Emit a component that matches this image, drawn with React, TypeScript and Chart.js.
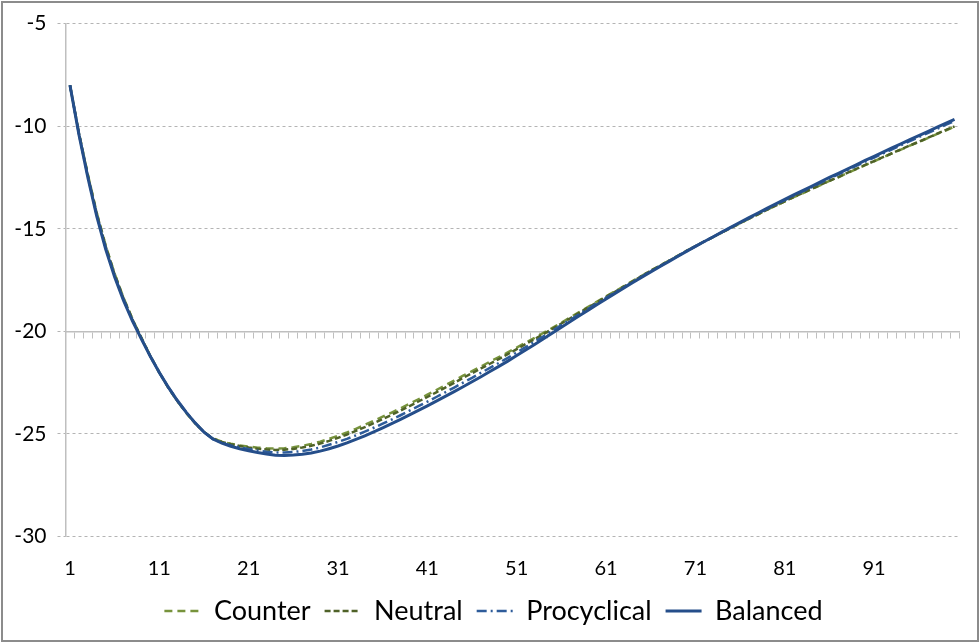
import { useEffect, useRef } from 'react'
import { Chart, registerables } from 'chart.js'

Chart.register(...registerables)

// periods 1..100
const PERIODS = Array.from({ length: 100 }, (_, i) => String(i + 1))
const SHOWN_TICKS = ['1', '11', '21', '31', '41', '51', '61', '71', '81', '91']

const COUNTER = [
  -8.00, -10.32, -12.35, -14.22, -15.82, -17.19, -18.37, -19.40, -20.32, -21.20,
  -22.01, -22.74, -23.39, -23.97, -24.48, -24.91, -25.22, -25.38, -25.48, -25.56,
  -25.62, -25.67, -25.70, -25.72, -25.70, -25.65, -25.58, -25.49, -25.38, -25.24,
  -25.09, -24.93, -24.75, -24.56, -24.36, -24.16, -23.96, -23.75, -23.53, -23.31,
  -23.09, -22.86, -22.63, -22.40, -22.16, -21.94, -21.71, -21.48, -21.26, -21.03,
  -20.79, -20.55, -20.32, -20.07, -19.83, -19.58, -19.32, -19.06, -18.81, -18.55,
  -18.30, -18.05, -17.80, -17.54, -17.29, -17.04, -16.80, -16.56, -16.32, -16.08,
  -15.85, -15.62, -15.40, -15.17, -14.95, -14.73, -14.51, -14.30, -14.08, -13.87,
  -13.67, -13.46, -13.27, -13.07, -12.87, -12.67, -12.49, -12.29, -12.09, -11.90,
  -11.71, -11.52, -11.33, -11.14, -10.95, -10.77, -10.58, -10.39, -10.21, -10.03,
]

const NEUTRAL = [
  -8.00, -10.34, -12.38, -14.26, -15.86, -17.22, -18.40, -19.42, -20.33, -21.21,
  -22.01, -22.74, -23.38, -23.96, -24.48, -24.91, -25.23, -25.39, -25.50, -25.59,
  -25.66, -25.72, -25.76, -25.78, -25.77, -25.73, -25.66, -25.58, -25.47, -25.34,
  -25.19, -25.03, -24.85, -24.67, -24.47, -24.27, -24.07, -23.86, -23.64, -23.42,
  -23.20, -22.97, -22.74, -22.51, -22.27, -22.04, -21.81, -21.58, -21.35, -21.11,
  -20.87, -20.62, -20.38, -20.13, -19.88, -19.62, -19.36, -19.10, -18.84, -18.58,
  -18.32, -18.07, -17.82, -17.56, -17.30, -17.05, -16.81, -16.57, -16.33, -16.08,
  -15.85, -15.62, -15.40, -15.17, -14.95, -14.73, -14.51, -14.30, -14.08, -13.87,
  -13.66, -13.45, -13.26, -13.06, -12.86, -12.66, -12.48, -12.28, -12.08, -11.89,
  -11.70, -11.51, -11.32, -11.13, -10.94, -10.76, -10.57, -10.38, -10.19, -10.01,
]

const PROCYCLICAL = [
  -8.00, -10.37, -12.44, -14.33, -15.93, -17.29, -18.45, -19.46, -20.36, -21.22,
  -22.01, -22.72, -23.36, -23.94, -24.46, -24.91, -25.25, -25.43, -25.56, -25.66,
  -25.74, -25.81, -25.87, -25.91, -25.91, -25.88, -25.83, -25.76, -25.66, -25.53,
  -25.39, -25.24, -25.07, -24.89, -24.70, -24.50, -24.30, -24.09, -23.87, -23.65,
  -23.43, -23.20, -22.97, -22.74, -22.50, -22.27, -22.02, -21.78, -21.54, -21.29,
  -21.03, -20.77, -20.51, -20.24, -19.97, -19.70, -19.43, -19.16, -18.90, -18.63,
  -18.37, -18.10, -17.85, -17.58, -17.33, -17.07, -16.83, -16.58, -16.34, -16.09,
  -15.86, -15.62, -15.40, -15.16, -14.93, -14.71, -14.48, -14.26, -14.04, -13.82,
  -13.60, -13.39, -13.18, -12.97, -12.76, -12.55, -12.35, -12.14, -11.94, -11.73,
  -11.53, -11.33, -11.13, -10.93, -10.73, -10.53, -10.34, -10.14, -9.94, -9.75,
]

const BALANCED = [
  -8.00, -10.40, -12.50, -14.40, -16.00, -17.35, -18.50, -19.50, -20.38, -21.23,
  -22.01, -22.72, -23.36, -23.94, -24.46, -24.91, -25.25, -25.45, -25.60, -25.72,
  -25.82, -25.91, -25.98, -26.04, -26.05, -26.03, -25.99, -25.93, -25.84, -25.72,
  -25.59, -25.44, -25.27, -25.09, -24.90, -24.70, -24.50, -24.29, -24.07, -23.85,
  -23.63, -23.40, -23.17, -22.94, -22.70, -22.46, -22.21, -21.96, -21.71, -21.45,
  -21.18, -20.91, -20.64, -20.36, -20.08, -19.80, -19.52, -19.24, -18.97, -18.69,
  -18.42, -18.15, -17.89, -17.62, -17.36, -17.10, -16.85, -16.60, -16.35, -16.10,
  -15.86, -15.62, -15.39, -15.15, -14.92, -14.69, -14.46, -14.24, -14.01, -13.79,
  -13.57, -13.35, -13.14, -12.93, -12.71, -12.50, -12.30, -12.09, -11.88, -11.67,
  -11.47, -11.27, -11.06, -10.86, -10.66, -10.46, -10.26, -10.06, -9.86, -9.67,
]

const FONT = 'Lato, "Noto Sans", sans-serif'
const AXIS_GREY = '#bfbfbf'

// the legend row sits a little right of the canvas centre in the original
const legendNudge = {
  id: 'legendNudge',
  afterLayout(c: any) {
    if (!c.legend) return
    c.legend.left += 14
    c.legend.right += 14
  },
}

export default function App() {
  const canvasRef = useRef<HTMLCanvasElement>(null)

  useEffect(() => {
    if (!canvasRef.current) return
    const chart = new Chart(canvasRef.current, {
      type: 'line',
      data: {
        labels: PERIODS,
        datasets: [
          { label: 'Counter', data: COUNTER, borderColor: '#77933C', borderWidth: 2.5, borderDash: [8, 5], order: 3 },
          { label: 'Neutral', data: NEUTRAL, borderColor: '#4F6228', borderWidth: 2.5, borderDash: [6, 3], order: 2 },
          { label: 'Procyclical', data: PROCYCLICAL, borderColor: '#2E5C9A', borderWidth: 2.5, borderDash: [10, 4, 2, 4], order: 1 },
          { label: 'Balanced', data: BALANCED, borderColor: '#254E8A', borderWidth: 3, order: 0 },
        ],
      },
      options: {
        animation: false,
        responsive: true,
        maintainAspectRatio: false,
        layout: { padding: { left: 0, right: 21, top: 20, bottom: 7.5 } },
        elements: { point: { radius: 0 }, line: { tension: 0, fill: false } },
        scales: {
          x: {
            type: 'category',
            offset: true,
            grid: { display: false, drawTicks: false },
            border: { display: false },
            ticks: {
              autoSkip: false,
              maxRotation: 0,
              padding: 20,
              color: '#000',
              font: { family: FONT, size: 20 },
              callback: (_v, i) => (SHOWN_TICKS.includes(PERIODS[i]) ? PERIODS[i] : ''),
            },
            afterFit: (s) => { s.height = 47 },
          },
          // axis line crossing at -20, with a tick between every category
          x2: {
            type: 'category',
            position: { y: -20 },
            offset: true,
            grid: { offset: true, drawOnChartArea: false, tickLength: 6, color: AXIS_GREY, tickColor: AXIS_GREY, lineWidth: 1 },
            border: { display: true, color: AXIS_GREY, width: 1.5 },
            ticks: { display: false },
          },
          y: {
            min: -30,
            max: -5,
            ticks: { stepSize: 5, padding: 11, color: '#000', font: { family: FONT, size: 21 } },
            grid: { color: '#b4b4b4', tickLength: 8, tickBorderDash: [3, 3], tickColor: '#b4b4b4', lineWidth: 1 },
            border: { display: true, color: AXIS_GREY, width: 1.5, dash: [3, 3] },
            afterFit: (s) => { s.width = 65.5 },
          },
        },
        plugins: {
          legend: {
            position: 'bottom',
            labels: {
              usePointStyle: true,
              pointStyle: 'line',
              pointStyleWidth: 36,
              padding: 14,
              color: '#000',
              font: { family: FONT, size: 27 },
              sort: (a, b) => (a.datasetIndex ?? 0) - (b.datasetIndex ?? 0),
              // keep each series' own dash and width on the legend sample
              generateLabels: (c) => {
                const items = Chart.defaults.plugins.legend.labels.generateLabels(c)
                items.forEach((it) => {
                  const ds: any = c.data.datasets[it.datasetIndex ?? 0]
                  it.lineDash = ds.borderDash || []
                  it.lineWidth = ds.borderWidth
                  it.strokeStyle = ds.borderColor
                  it.pointStyle = 'line'
                })
                return items
              },
            },
          },
          tooltip: { enabled: false },
        },
      },
      plugins: [legendNudge],
    })
    return () => { chart.destroy() }
  }, [])

  return (
    <div style={{ position: 'fixed', left: 0, top: 0, width: 980, height: 642, background: '#fff' }}>
      <canvas ref={canvasRef} />
      <div style={{ position: 'absolute', left: 1, top: 1, width: 974, height: 637, border: '2px solid #8c8c8c', pointerEvents: 'none' }} />
    </div>
  )
}
